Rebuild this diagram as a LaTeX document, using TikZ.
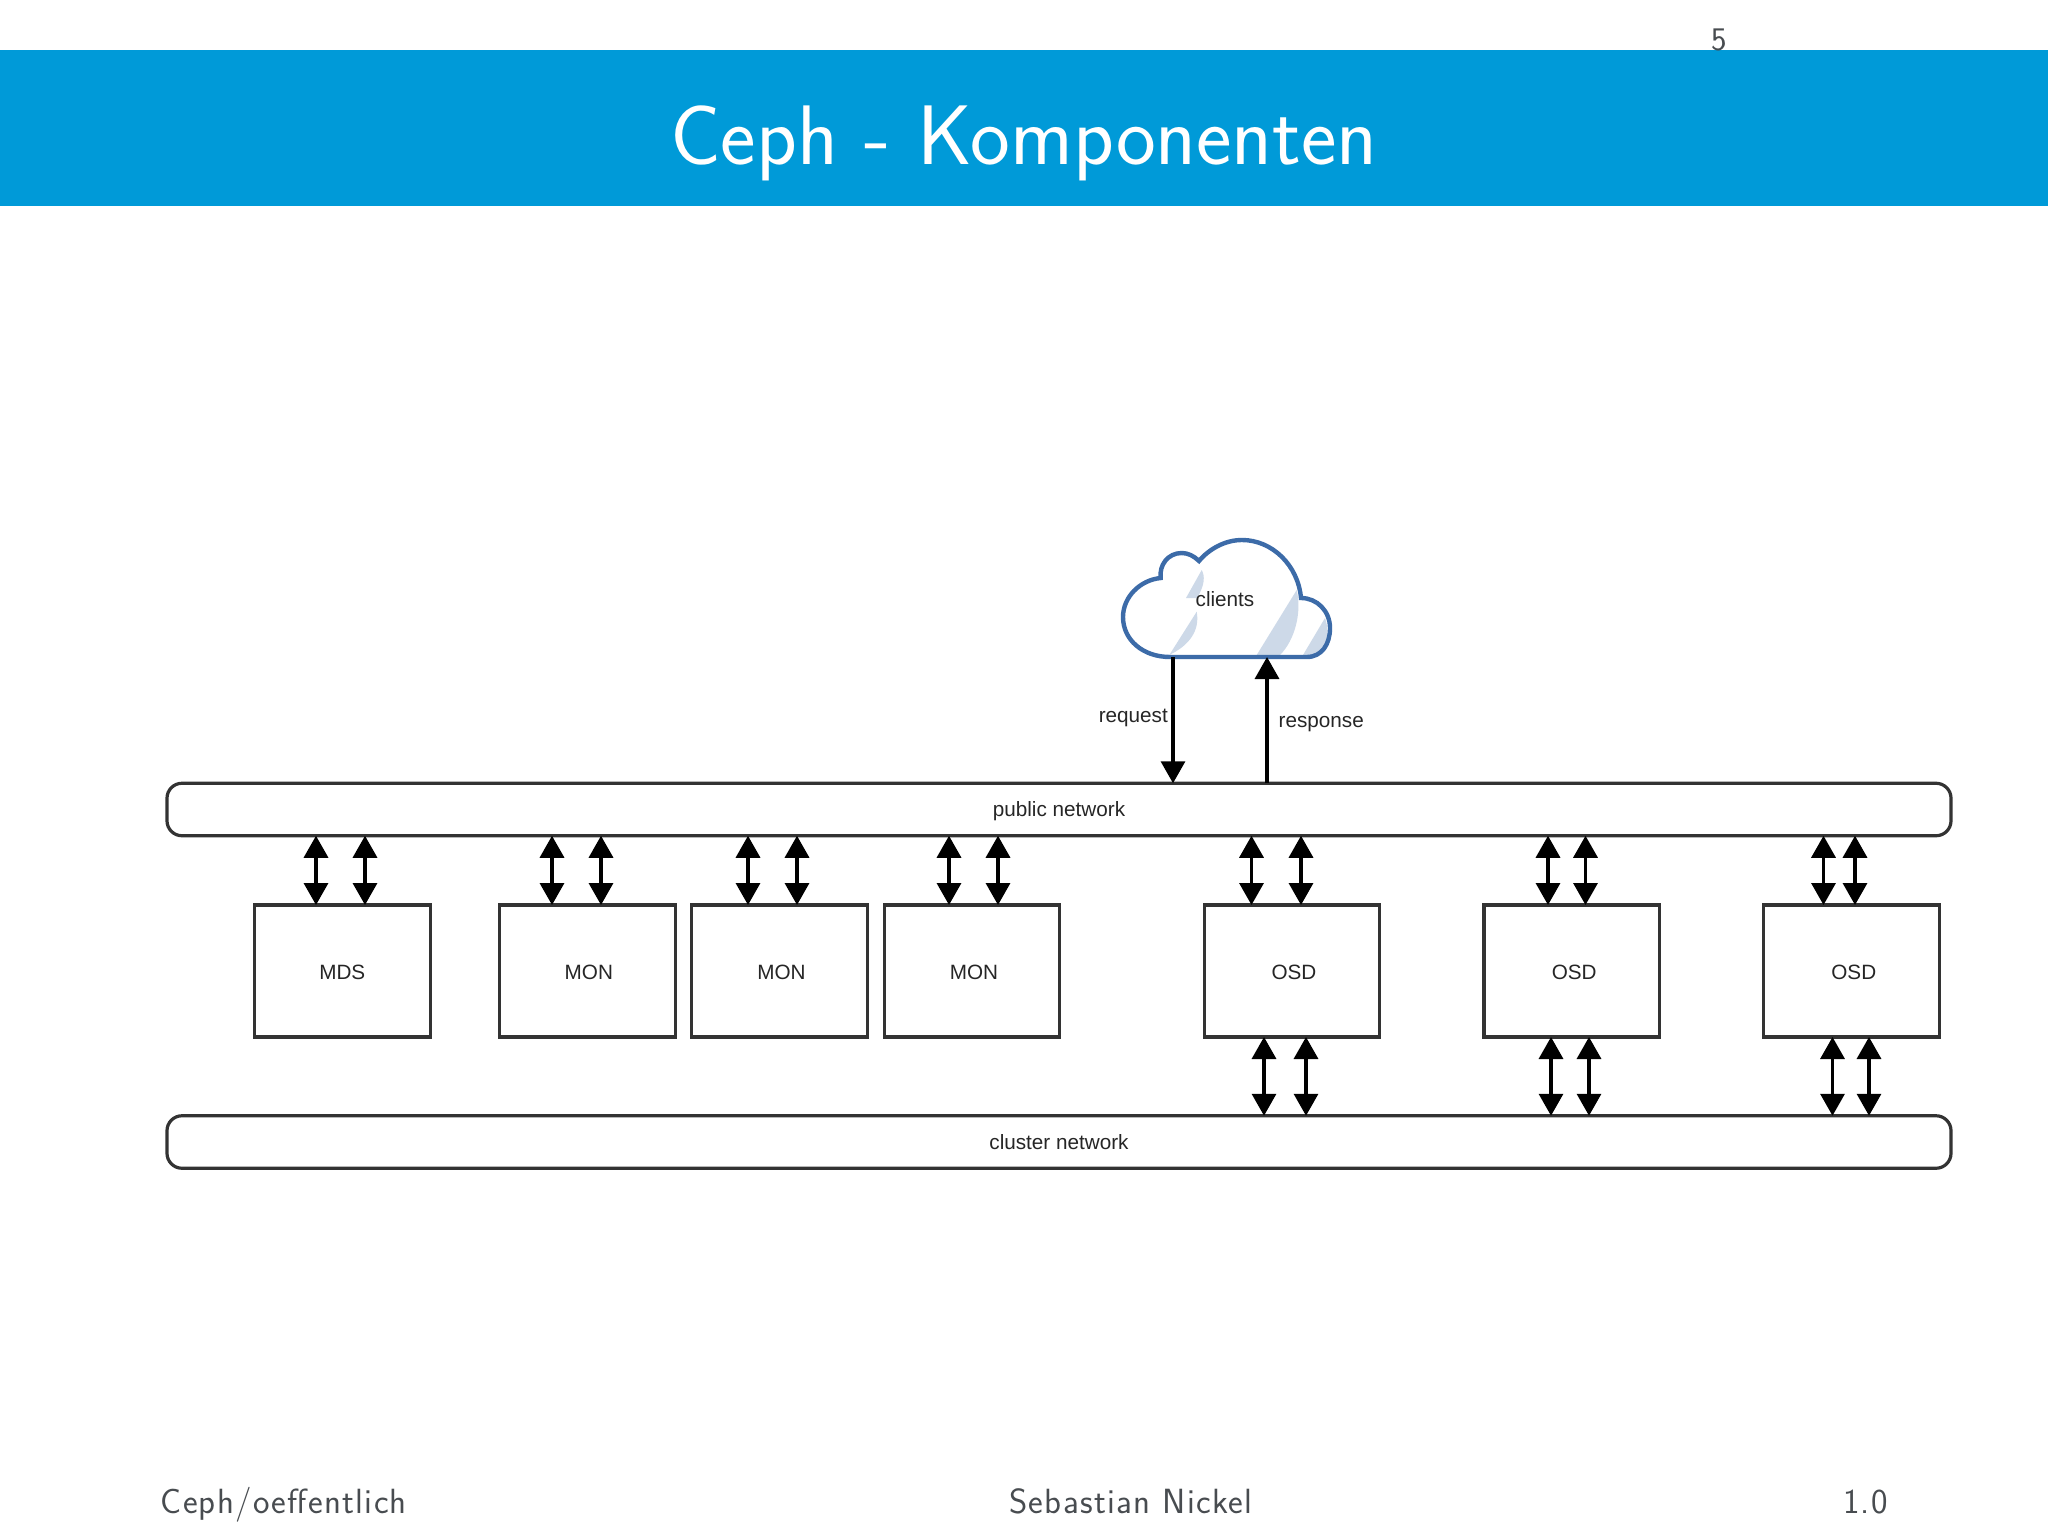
\documentclass[tikz,border=0pt]{standalone}
\usepackage{fontspec}
\usetikzlibrary{arrows.meta,calc}
\newfontfamily\diafont{Liberation Sans}
\newfontfamily\lmfoot[LetterSpace=3.75]{Latin Modern Sans}
\definecolor{band}{HTML}{009AD8}
\definecolor{cloudline}{HTML}{3C6BA8}
\definecolor{cloudshade}{HTML}{CDD9E8}
\definecolor{boxline}{HTML}{333333}
\definecolor{foot}{HTML}{484C50}
% lowers a label by 1.5pt and moves it right by half of #1, keeping the node's size
\newcommand{\lowlabel}[2]{\hspace*{#1}\raisebox{-1.5pt}[\height][\depth]{#2}}
\tikzset{
  netbox/.style={draw=boxline,line width=3.2pt,rounded corners=15pt,minimum width=1784pt,minimum height=52.5pt,inner sep=0pt,outer sep=0pt,text=black!85,font=\diafont\fontsize{20.7}{24}\selectfont},
  compbox/.style={draw=boxline,line width=3.2pt,minimum width=175.6pt,minimum height=132pt,inner sep=0pt,outer sep=0pt,text=black!85,font=\diafont\fontsize{20.7}{24}\selectfont},
  lbl/.style={inner sep=0pt,text=black!85,font=\diafont\fontsize{20.7}{24}\selectfont},
  bi/.style={line width=3.4pt,{Triangle[width=24pt,length=22pt]}-{Triangle[width=24pt,length=22pt]}},
  uni/.style={line width=3.4pt,-{Triangle[width=24pt,length=22pt]}},
  footer/.style={inner sep=0pt,text=foot,font=\lmfoot\fontsize{35}{42}\selectfont}
}
\begin{document}
\begin{tikzpicture}[x=1pt,y=-1pt]
\useasboundingbox (0,0) rectangle (2048,1536);
\fill[white] (0,0) rectangle (2048,1536);
\fill[band] (0,50) rectangle (2048,205.5);
\node[anchor=base,inner sep=0pt,text=white,font=\sffamily\fontsize{84.5}{100}\selectfont] (title) at (1024,164.5) {Ceph - Komponenten};
\node[anchor=base,inner sep=0pt,text=foot,font=\sffamily\fontsize{33}{40}\selectfont] (page) at (1719,51) {5};
% cloud
\node[inner sep=0pt,outer sep=0pt,minimum width=207pt,minimum height=117pt] (cloud) at (1226.5,598.5) {};
\fill[white] (1170,657) -- (1306.7,657) .. controls (1322,657) and (1330,644) .. (1330,628) .. controls (1330,611) and (1317,598) .. (1301,598) .. controls (1298,565) and (1272,540) .. (1242,540) .. controls (1225,540) and (1209,549) .. (1199,561) .. controls (1194,556) and (1188,553) .. (1181.7,553) .. controls (1168,553) and (1159,565) .. (1160.7,578) .. controls (1140,580) and (1123,597) .. (1123,617) .. controls (1123,640) and (1143,657) .. (1170,657) -- cycle;
\fill[cloudshade] (1201.7,570) .. controls (1205,576) and (1205,585) .. (1197,598) -- (1186,598) -- cycle;
\fill[cloudshade] (1196.7,611.7) -- (1169.3,655) .. controls (1190,645) and (1200,630) .. (1196.7,611.7) -- cycle;
\fill[cloudshade] (1296.7,590) -- (1256.7,655) -- (1280,655) .. controls (1295,640) and (1302,612) .. (1296.7,590) -- cycle;
\fill[cloudshade] (1325,618) -- (1303,655) -- (1314,655) .. controls (1325,655) and (1331,635) .. (1325,618) -- cycle;
\draw[cloudline,line width=4.4pt] (1170,657) -- (1306.7,657) .. controls (1322,657) and (1330,644) .. (1330,628) .. controls (1330,611) and (1317,598) .. (1301,598) .. controls (1298,565) and (1272,540) .. (1242,540) .. controls (1225,540) and (1209,549) .. (1199,561) .. controls (1194,556) and (1188,553) .. (1181.7,553) .. controls (1168,553) and (1159,565) .. (1160.7,578) .. controls (1140,580) and (1123,597) .. (1123,617) .. controls (1123,640) and (1143,657) .. (1170,657) -- cycle;
\node[lbl,anchor=base] (clients) at (1225,606) {clients};
% networks
\node[netbox] (pub) at (1059,809.5) {\lowlabel{0pt}{public network}};
\node[netbox] (clu) at (1059,1142) {cluster network};
% boxes
\node[compbox] (mds) at (342.3,971) {\lowlabel{0pt}{MDS}};
\node[compbox] (mon1) at (587.3,971) {\lowlabel{3pt}{MON}};
\node[compbox] (mon2) at (779.5,971) {\lowlabel{4pt}{MON}};
\node[compbox] (mon3) at (972,971) {\lowlabel{4pt}{MON}};
\node[compbox] (osd1) at (1292,971) {\lowlabel{4pt}{OSD}};
\node[compbox] (osd2) at (1571.7,971) {\lowlabel{5pt}{OSD}};
\node[compbox] (osd3) at (1851.3,971) {\lowlabel{5pt}{OSD}};
% client connectors
\coordinate (rq) at (1173,0);
\coordinate (rs) at (1267,0);
\draw[uni] (cloud.south -| rq) -- (pub.north -| rq);
\draw[uni] (pub.north -| rs) -- (cloud.south -| rs);
\node[lbl,anchor=base east] (request) at (1168,722) {request};
\node[lbl,anchor=base west] (response) at (1278.5,727) {response};
% public network links
\foreach \n/\x/\b in {a/316/mds,b/365/mds,c/552/mon1,d/601/mon1,e/748/mon2,f/797/mon2,g/949/mon3,h/998/mon3,i/1251.5/osd1,j/1301/osd1,k/1548/osd2,l/1585.5/osd2,m/1823.5/osd3,n/1855/osd3}{
  \coordinate (u\n) at (\x,0);
  \draw[bi] (pub.south -| u\n) -- (\b.north -| u\n);
}
% cluster network links
\foreach \n/\x/\b in {a/1264/osd1,b/1306/osd1,c/1551/osd2,d/1589/osd2,e/1832.5/osd3,f/1869/osd3}{
  \coordinate (v\n) at (\x,0);
  \draw[bi] (\b.south -| v\n) -- (clu.north -| v\n);
}
% footer
\node[footer,anchor=base west] (fa) at (160.5,1513) {Ceph/oeffentlich};
\node[footer,anchor=base] (fb) at (1131,1513) {Sebastian Nickel};
\node[footer,anchor=base east] (fc) at (1888,1513) {1.0};
\end{tikzpicture}
\end{document}
